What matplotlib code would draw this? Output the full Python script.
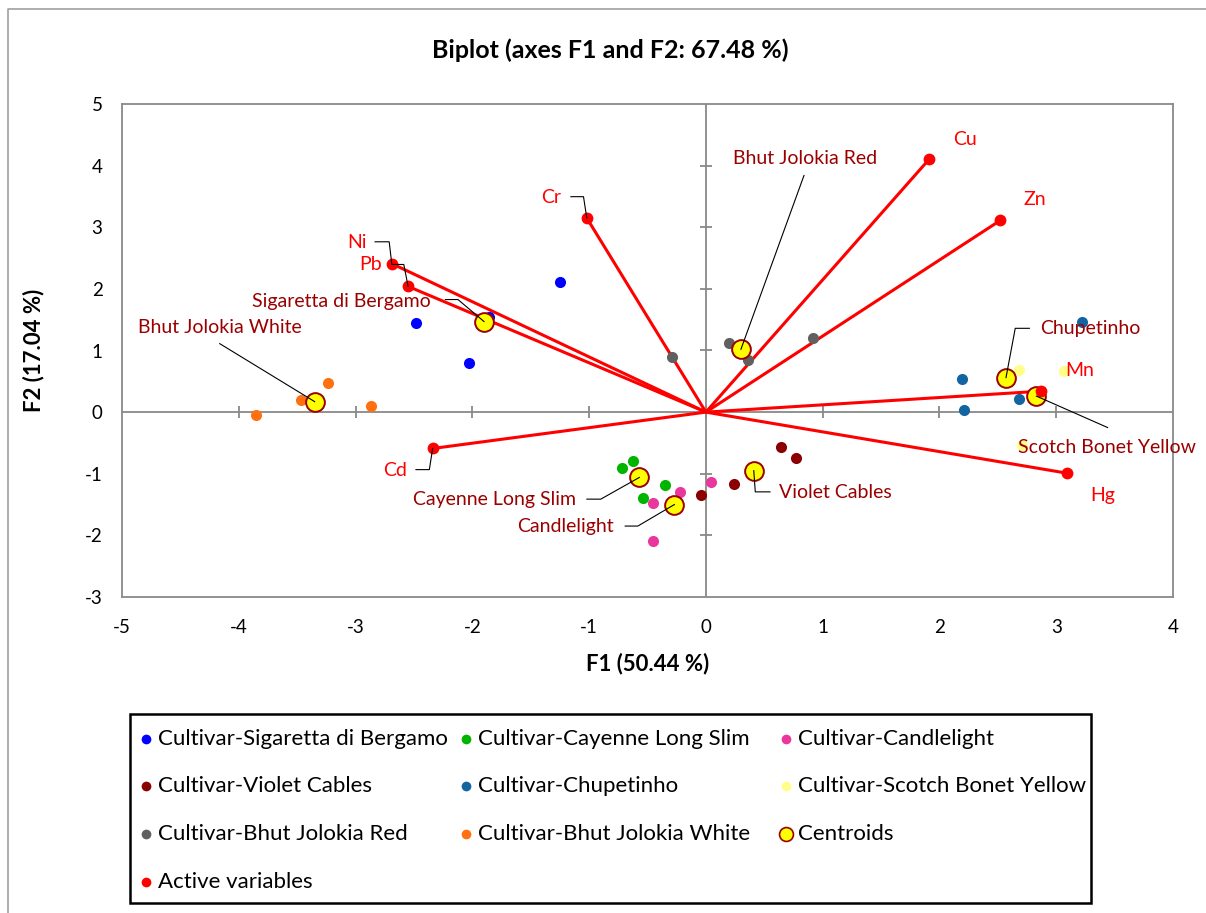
import numpy as np
import matplotlib.pyplot as plt
from matplotlib.lines import Line2D
from matplotlib.patches import Rectangle

plt.rcParams['font.family'] = ['Lato', 'DejaVu Sans']
plt.rcParams['axes.unicode_minus'] = False

# active variables (F1, F2 coordinates)
var_names = ['Cu', 'Zn', 'Cr', 'Ni', 'Pb', 'Mn', 'Hg', 'Cd']
var_f1 = [1.91, 2.52, -1.02, -2.69, -2.55, 2.87, 3.09, -2.34]
var_f2 = [4.10, 3.11, 3.15, 2.41, 2.04, 0.34, -0.99, -0.59]

# observations, four per cultivar
cultivars = ['Sigaretta di Bergamo', 'Cayenne Long Slim', 'Candlelight',
             'Violet Cables', 'Chupetinho', 'Scotch Bonet Yellow',
             'Bhut Jolokia Red', 'Bhut Jolokia White']
obs_f1 = [[-2.48, -2.03, -1.25, -1.86],
          [-0.72, -0.62, -0.35, -0.54],
          [0.04, -0.22, -0.45, -0.45],
          [0.64, 0.77, 0.24, -0.04],
          [3.22, 2.19, 2.21, 2.68],
          [2.68, 3.07, 2.71, 2.85],
          [-0.29, 0.20, 0.36, 0.92],
          [-3.24, -3.47, -3.85, -2.87]]
obs_f2 = [[1.45, 0.79, 2.11, 1.54],
          [-0.90, -0.79, -1.18, -1.39],
          [-1.14, -1.29, -1.47, -2.09],
          [-0.56, -0.74, -1.17, -1.34],
          [1.47, 0.53, 0.03, 0.21],
          [0.68, 0.66, -0.54, 0.24],
          [0.90, 1.12, 0.84, 1.21],
          [0.47, 0.19, -0.05, 0.10]]

# class centroids
centroid_f1 = [-1.90, -0.57, -0.27, 0.41, 2.57, 2.83, 0.30, -3.35]
centroid_f2 = [1.47, -1.06, -1.50, -0.95, 0.56, 0.26, 1.02, 0.17]

x_ticks = [-5, -4, -3, -2, -1, 0, 1, 2, 3, 4]
y_ticks = [-3, -2, -1, 0, 1, 2, 3, 4, 5]

cult_colors = ['#0000FF', '#00B400', '#E8389E', '#8B0000',
               '#1265A0', '#FFFF88', '#606060', '#FF7010']

# label anchor (left edge, middle) and leader path from text to point
var_labels = {
    'Cu': (2.12, 4.43, []),
    'Zn': (2.72, 3.45, []),
    'Cr': (-1.41, 3.48, [(-1.156, 3.496), (-1.048, 3.496)]),
    'Ni': (-3.07, 2.75, [(-2.833, 2.764), (-2.712, 2.764)]),
    'Pb': (-2.97, 2.39, [(-2.689, 2.396), (-2.587, 2.396)]),
    'Mn': (3.08, 0.67, []),
    'Hg': (3.29, -1.36, []),
    'Cd': (-2.76, -0.94, [(-2.483, -0.933), (-2.368, -0.933)]),
}
cent_labels = {
    'Sigaretta di Bergamo': (-3.89, 1.80, [(-2.231, 1.827), (-2.123, 1.827)]),
    'Cayenne Long Slim': (-2.51, -1.41, [(-1.019, -1.412), (-0.90, -1.412)]),
    'Candlelight': (-1.62, -1.86, [(-0.691, -1.849), (-0.583, -1.849)]),
    'Violet Cables': (0.63, -1.31, [(0.549, -1.294), (0.423, -1.294)]),
    'Chupetinho': (2.86, 1.35, [(2.77, 1.36), (2.649, 1.36)]),
    'Scotch Bonet Yellow': (2.67, -0.57, [(3.44, -0.25)]),
    'Bhut Jolokia Red': (0.23, 4.12, [(0.84, 3.84)]),
    'Bhut Jolokia White': (-4.86, 1.38, [(-4.163, 1.111)]),
}

axis_grey = '#898989'
label_red = '#9A0000'
W, H = 1206, 913

fig = plt.figure(figsize=(W / 100, H / 100), dpi=100)
ax = fig.add_axes([122 / W, 1 - 597 / H, 1051 / W, 493 / H])
ax.set_xlim(-5, 4)
ax.set_ylim(-3, 5)

for s in ax.spines.values():
    s.set_color(axis_grey)
    s.set_linewidth(1.3)

ax.set_xticks(x_ticks)
ax.set_yticks(y_ticks)
ax.tick_params(length=0, labelsize=13.5, colors='black')
ax.tick_params(axis='x', pad=16)
ax.tick_params(axis='y', pad=14)

# zero axes with crossing tick marks
ax.axhline(0, color=axis_grey, lw=1.3, zorder=1)
ax.axvline(0, color=axis_grey, lw=1.3, zorder=1)
ax.plot(x_ticks[1:-1], np.zeros(len(x_ticks) - 2), ls='none', marker='|',
        ms=9, mew=1.3, color=axis_grey, zorder=1)
ax.plot(np.zeros(len(y_ticks) - 2), y_ticks[1:-1], ls='none', marker='_',
        ms=9, mew=1.3, color=axis_grey, zorder=1)

# observations
for c, xs, ys, col in zip(cultivars, obs_f1, obs_f2, cult_colors):
    ax.plot(xs, ys, ls='none', marker='o', ms=8, mec='none', color=col,
            zorder=3)

# variable vectors
for n, x, y in zip(var_names, var_f1, var_f2):
    ax.plot([0, x], [0, y], color='#FF0000', lw=2.2, zorder=2,
            solid_capstyle='butt')

# centroids
ax.plot(centroid_f1, centroid_f2, ls='none', marker='o', ms=13.5,
        mfc='#FFFF00', mec='#9A0000', mew=1.4, zorder=4)

ax.plot(var_f1, var_f2, ls='none', marker='o', ms=8.5, mec='none',
        color='#FF0000', zorder=5)

fs = 14
for n, x, y in zip(var_names, var_f1, var_f2):
    tx, ty, path = var_labels[n]
    ax.text(tx, ty, n, color='#FF0000', fontsize=fs, ha='left', va='center',
            zorder=6, clip_on=False)
    if path:
        px = [p[0] for p in path] + [x]
        py = [p[1] for p in path] + [y]
        ax.plot(px, py, color='black', lw=0.8, zorder=6)

for n, x, y in zip(cultivars, centroid_f1, centroid_f2):
    tx, ty, path = cent_labels[n]
    ax.text(tx, ty, n, color=label_red, fontsize=fs, ha='left', va='center',
            zorder=6, clip_on=False)
    px = [p[0] for p in path] + [x]
    py = [p[1] for p in path] + [y]
    ax.plot(px, py, color='black', lw=0.8, zorder=6)

fig.text(0.506, 1 - 50 / H, 'Biplot (axes F1 and F2: 67.48 %)',
         ha='center', va='center', fontsize=18, fontweight='bold')
ax.set_xlabel('F1 (50.44 %)', fontsize=16, fontweight='bold', labelpad=12)
ax.set_ylabel('F2 (17.04 %)', fontsize=16, fontweight='bold', labelpad=29)

# outer chart frame (top and left edges visible)
fig.add_artist(Line2D([8 / W, 8 / W, 1], [0, 1 - 9 / H, 1 - 9 / H],
                      color='#A0A0A0', lw=1.2))

# legend laid out on a fixed 3-column grid, row by row
legend_items = [('Cultivar-' + c, dict(mfc=col, mec='none', ms=7, mew=0))
                for c, col in zip(cultivars, cult_colors)]
legend_items.append(('Centroids', dict(mfc='#FFFF00', mec='#9A0000', ms=10, mew=1.2)))
legend_items.append(('Active variables', dict(mfc='#FF0000', mec='none', ms=7, mew=0)))

fig.add_artist(Rectangle((130 / W, 1 - 903 / H), 961 / W, 189 / H,
                         transform=fig.transFigure, fill=False,
                         edgecolor='black', lw=1.8))
col_x = [146, 466, 786]
row_y = [739, 786, 834, 882]
for i, (lab, style) in enumerate(legend_items):
    mx = col_x[i % 3] / W
    my = 1 - row_y[i // 3] / H
    fig.add_artist(Line2D([mx], [my], ls='none', marker='o', **style))
    fig.text(mx + 12 / W, my, lab, fontsize=16, ha='left', va='center')

fig.savefig('out.png', dpi=100)
